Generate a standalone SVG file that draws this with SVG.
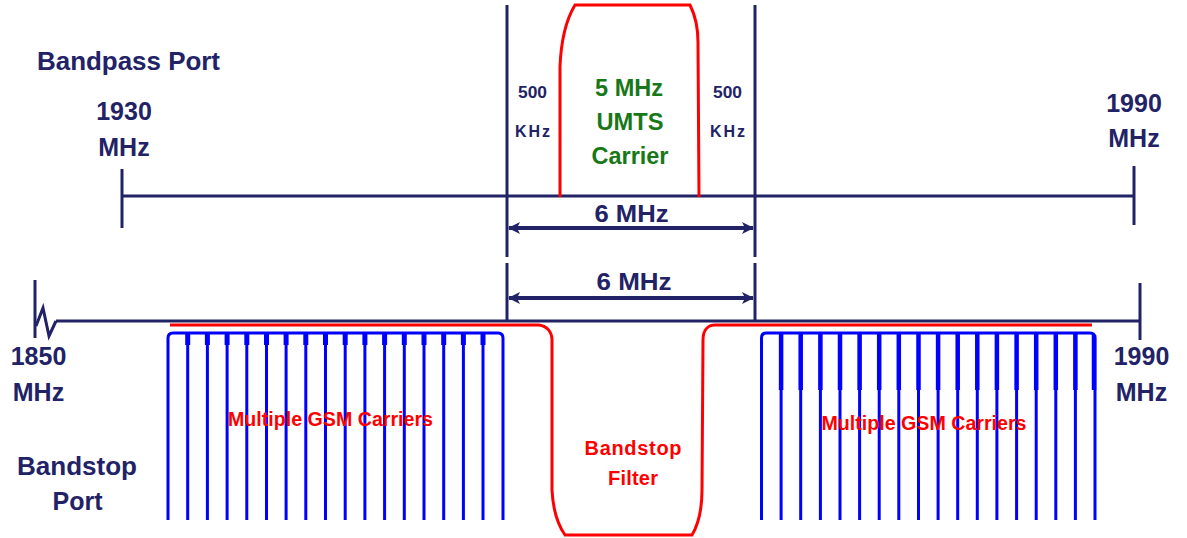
<svg xmlns="http://www.w3.org/2000/svg" width="1187" height="538" viewBox="0 0 1187 538">
<style>
.nv{stroke:#222266;stroke-width:3;fill:none}
.red{stroke:#ff0000;stroke-width:3;fill:none}
.bl{stroke:#0000ff;stroke-width:3;fill:none}
.blt{stroke:#0000ff;stroke-width:5;fill:none}
.blr{stroke:#0000ff;stroke-width:4.5;fill:none}
.arr{stroke:#222266;stroke-width:4;fill:none}
text{font-family:"Liberation Sans",Arial,sans-serif;font-weight:bold;text-anchor:middle}
.tn{fill:#222266;font-size:25px}
.tg{fill:#187818;font-size:23px}
.ts{fill:#222266;font-size:16px}
.tr{fill:#ff0000;font-size:20px}
.tm{fill:#222266;font-size:23px}
</style>
<defs>
<marker id="ah" viewBox="0 0 12 12" refX="11" refY="6" markerWidth="13" markerHeight="12" orient="auto-start-reverse" markerUnits="userSpaceOnUse">
<path d="M0,0 L12,6 L0,12 L3,6 z" fill="#222266"/>
</marker>
</defs>
<rect width="1187" height="538" fill="#ffffff"/>

<g id="bandpass-axis">
<line class="nv" x1="122" y1="196" x2="1135" y2="196"/>
<line class="nv" x1="122" y1="169" x2="122" y2="228"/>
<line class="nv" x1="1134" y1="166" x2="1134" y2="225"/>
</g>

<g id="bandstop-axis">
<line class="nv" x1="56" y1="321" x2="1140" y2="321"/>
<line class="nv" x1="35" y1="280" x2="35" y2="338"/>
<polyline class="nv" points="36,326 43,308 49,336 56,321"/>
<line class="nv" x1="1140" y1="283" x2="1140" y2="340"/>
</g>

<g id="guard-lines">
<line class="nv" x1="507" y1="5" x2="507" y2="257"/>
<line class="nv" x1="507" y1="263" x2="507" y2="322"/>
<line class="nv" x1="755" y1="5" x2="755" y2="257"/>
<line class="nv" x1="755" y1="263" x2="755" y2="322"/>
</g>

<g id="umts-carrier">
<path class="red" d="M560,197 L560,67 C561,40 566,20 575,5 L690,5 C695,15 698,28 698,42 L699,197"/>
<text class="tg" x="629" y="96" textLength="68" lengthAdjust="spacingAndGlyphs">5 MHz</text>
<text class="tg" x="630" y="130" textLength="67" lengthAdjust="spacingAndGlyphs">UMTS</text>
<text class="tg" x="630" y="164" textLength="77" lengthAdjust="spacingAndGlyphs">Carrier</text>
</g>

<g id="guard-left">
<text class="ts" x="532.5" y="98" textLength="29" lengthAdjust="spacingAndGlyphs">500</text>
<text class="ts" x="532.5" y="137" textLength="35" lengthAdjust="spacing">KHz</text>
</g>
<g id="guard-right">
<text class="ts" x="727.5" y="98" textLength="29" lengthAdjust="spacingAndGlyphs">500</text>
<text class="ts" x="727.5" y="137" textLength="35" lengthAdjust="spacing">KHz</text>
</g>

<g id="bandstop-filter">
<path class="red" d="M170,325 L539,325 C547,326 552,332 552,340 L552,490 C553,510 558,525 565,535 L692,535 C698,525 702,510 702,490 L703,340 C703,330 708,325 715,325 L1092,325"/>
<text class="tr" x="633" y="455" textLength="97" lengthAdjust="spacing">Bandstop</text>
<text class="tr" x="633" y="485" textLength="50" lengthAdjust="spacing">Filter</text>
</g>

<g id="gsm-left">
<path class="bl" d="M168,520 V338 Q168,333 173,333 H498 Q503,333 503,338 V520"/>
<path class="blt" d="M187.7,333V345M207.4,333V345M227.1,333V345M246.8,333V345M266.5,333V345M286.1,333V345M305.8,333V345M325.5,333V345M345.2,333V345M364.9,333V345M384.6,333V345M404.3,333V345M424,333V345M443.7,333V345M463.4,333V345M483,333V345"/>
<path class="bl" d="M187.7,333V520M207.4,333V520M227.1,333V520M246.8,333V520M266.5,333V520M286.1,333V520M305.8,333V520M325.5,333V520M345.2,333V520M364.9,333V520M384.6,333V520M404.3,333V520M424,333V520M443.7,333V520M463.4,333V520M483,333V520"/>
<text class="tr" x="330.5" y="426" font-size="19.5" style="font-size:19.5px" textLength="205" lengthAdjust="spacingAndGlyphs">Multiple GSM Carriers</text>
</g>

<g id="gsm-right">
<path class="bl" d="M761.5,520 V338 Q761.5,333 766.5,333 H1090 Q1095,333 1095,338 V520"/>
<path class="blr" d="M781.1,333V390M800.7,333V390M820.4,333V390M840,333V390M859.6,333V390M879.2,333V390M898.8,333V390M918.5,333V390M938.1,333V390M957.7,333V390M977.3,333V390M996.9,333V390M1016.6,333V390M1036.2,333V390M1055.8,333V390M1075.4,333V390M1094,335V390"/>
<path class="bl" d="M781.1,333V520M800.7,333V520M820.4,333V520M840,333V520M859.6,333V520M879.2,333V520M898.8,333V520M918.5,333V520M938.1,333V520M957.7,333V520M977.3,333V520M996.9,333V520M1016.6,333V520M1036.2,333V520M1055.8,333V520M1075.4,333V520"/>
<text class="tr" x="924" y="430" style="font-size:19.5px" textLength="205" lengthAdjust="spacingAndGlyphs">Multiple GSM Carriers</text>
</g>

<g id="labels">
<text class="tn" x="37" y="70" style="text-anchor:start" textLength="183" lengthAdjust="spacingAndGlyphs">Bandpass Port</text>
<text class="tn" x="124" y="120">1930</text>
<text class="tn" x="124" y="156">MHz</text>
<text class="tn" x="1134" y="112">1990</text>
<text class="tn" x="1134" y="147">MHz</text>
<text class="tn" x="38.5" y="365">1850</text>
<text class="tn" x="38.5" y="401">MHz</text>
<text class="tn" x="1141.5" y="365">1990</text>
<text class="tn" x="1141.5" y="401">MHz</text>
<text class="tn" x="77" y="475" textLength="120" lengthAdjust="spacingAndGlyphs">Bandstop</text>
<text class="tn" x="77.5" y="510">Port</text>
</g>

<g id="connectors">
<line class="arr" x1="509" y1="228" x2="753" y2="228" marker-start="url(#ah)" marker-end="url(#ah)"/>
<text class="tm" x="631.5" y="222" textLength="74" lengthAdjust="spacingAndGlyphs">6 MHz</text>
<line class="arr" x1="509" y1="298" x2="753" y2="298" marker-start="url(#ah)" marker-end="url(#ah)"/>
<text class="tm" x="634" y="290" textLength="75" lengthAdjust="spacingAndGlyphs">6 MHz</text>
</g>
</svg>
